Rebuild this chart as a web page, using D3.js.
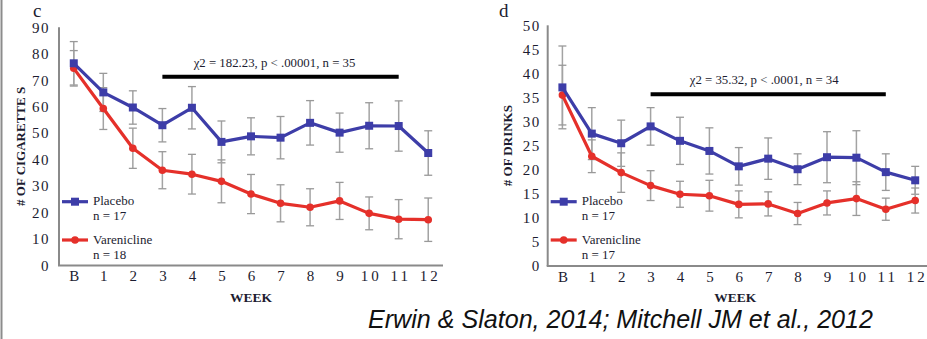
<!DOCTYPE html>
<html>
<head>
<meta charset="utf-8">
<script src="https://cdn.jsdelivr.net/npm/d3@7"></script>
<style>
  html, body { margin: 0; padding: 0; background: #fff; }
  svg { display: block; }
  text { font-family: "Liberation Serif", "Times New Roman", serif; fill: #1c1c30; }
</style>
</head>
<body>
<svg id="chart" width="927" height="339"></svg>
<script>
// weeks on the x axis
const weeks = ["B", "1", "2", "3", "4", "5", "6", "7", "8", "9", "10", "11", "12"];

// panel c: cigarettes per week (mean, error half-width)
const cigPlacebo    = [76.4, 65.4, 59.7, 53.0, 59.6, 46.7, 48.8, 48.3, 53.9, 50.2, 52.8, 52.7, 42.5];
const cigPlaceboErr = [8.2, 7.2, 6.3, 6.3, 8.0, 7.9, 7.0, 8.0, 8.4, 7.4, 8.7, 9.5, 8.4];
const cigVaren      = [74.5, 59.3, 44.3, 36.0, 34.5, 31.8, 27.0, 23.5, 22.0, 24.4, 19.7, 17.5, 17.3];
const cigVarenErr   = [6.7, 7.9, 7.6, 7.0, 7.5, 8.1, 7.4, 7.0, 7.0, 7.0, 6.2, 7.4, 8.2];
const cigTicks = [0, 10, 20, 30, 40, 50, 60, 70, 80, 90];

// panel d: drinks per week
const drkPlacebo    = [37.1, 27.5, 25.5, 29.0, 26.0, 23.9, 20.7, 22.3, 20.1, 22.6, 22.5, 19.5, 17.8];
const drkPlaceboErr = [8.6, 5.4, 4.8, 3.9, 4.9, 4.8, 3.9, 4.3, 3.2, 5.3, 5.6, 3.8, 2.9];
const drkVaren      = [35.5, 22.8, 19.4, 16.7, 14.9, 14.6, 12.8, 12.9, 10.9, 13.1, 14.0, 11.8, 13.6];
const drkVarenErr   = [6.2, 3.4, 4.1, 3.1, 2.7, 3.2, 2.8, 2.5, 2.3, 2.5, 3.5, 2.3, 2.6];
const drkTicks = [0, 5, 10, 15, 20, 25, 30, 35, 40, 45, 50];

const BLUE = "#3d3da8";
const RED = "#e5302a";
const ERR = "#a3a3a3";
const AXIS = "#8a8a8a";

const svg = d3.select("#chart");

// thin frame line on the left edge of the picture
svg.append("line")
  .attr("x1", 1.5).attr("x2", 1.5).attr("y1", 0).attr("y2", 339)
  .attr("stroke", "#8c8c8c").attr("stroke-width", 2);

function drawPanel(opt) {
  const { letter, x0, x1, y0, y1, yMax, ticks, placebo, placeboErr, varen, varenErr,
          yLabel, yLabelX, labelPad, stat, statOffset, barY, nPlacebo, nVaren } = opt;

  const x = d3.scalePoint().domain(weeks).range([x0, x1]).padding(0.5);
  const y = d3.scaleLinear().domain([0, yMax]).range([y0, y1]);
  const g = svg.append("g");

  // axes
  const yAxis = g.append("g")
    .attr("transform", `translate(${x0},0)`)
    .call(d3.axisLeft(y).tickValues(ticks).tickSize(0).tickPadding(labelPad));
  yAxis.select(".domain").remove();
  yAxis.selectAll("text")
    .style("font-family", '"Liberation Serif", serif')
    .style("font-size", "15px")
    .style("letter-spacing", "1.5px")
    .attr("fill", "#1c1c30");

  const xAxis = g.append("g")
    .attr("transform", `translate(0,${y0})`)
    .call(d3.axisBottom(x).tickSize(0).tickPadding(5));
  xAxis.select(".domain").remove();
  xAxis.selectAll("text")
    .style("font-family", '"Liberation Serif", serif')
    .style("font-size", "15px")
    .style("letter-spacing", "3px")
    .attr("dx", "1.5px")
    .attr("fill", "#1c1c30");

  g.append("line")
    .attr("x1", x0).attr("x2", x0).attr("y1", y(yMax)).attr("y2", y0)
    .attr("stroke", AXIS).attr("stroke-width", 2);
  g.append("line")
    .attr("x1", x0 - 1).attr("x2", x1).attr("y1", y0).attr("y2", y0)
    .attr("stroke", AXIS).attr("stroke-width", 2);

  g.append("text")
    .attr("x", (x0 + Math.min(x1, 927)) / 2 + opt.weekOffset)
    .attr("y", y0 + 36)
    .attr("text-anchor", "middle")
    .style("font-size", "13.5px").style("font-weight", "bold")
    .text("WEEK");

  g.append("text")
    .attr("transform", `translate(${yLabelX},${(y0 + y(yMax)) / 2}) rotate(-90)`)
    .attr("text-anchor", "middle")
    .style("font-size", "13px").style("font-weight", "bold")
    .text(yLabel);

  g.append("text")
    .attr("x", opt.letterX).attr("y", opt.letterY)
    .style("font-size", "19px")
    .text(letter);

  // significance bar
  g.append("line")
    .attr("x1", x("3")).attr("x2", x("11")).attr("y1", barY).attr("y2", barY)
    .attr("stroke", "#000").attr("stroke-width", 4);
  g.append("text")
    .attr("x", (x("3") + x("11")) / 2 + statOffset)
    .attr("y", barY - 10)
    .attr("text-anchor", "middle")
    .style("font-size", "12.8px")
    .text(stat);

  // error bars
  const series = [
    { vals: placebo, err: placeboErr, color: BLUE, shape: "square" },
    { vals: varen, err: varenErr, color: RED, shape: "circle" }
  ];
  series.forEach(s => {
    const eg = g.append("g");
    weeks.forEach((w, i) => {
      const cx = x(w), hi = y(s.vals[i] + s.err[i]), lo = y(s.vals[i] - s.err[i]);
      eg.append("line").attr("x1", cx).attr("x2", cx).attr("y1", hi).attr("y2", lo)
        .attr("stroke", ERR).attr("stroke-width", 1.5);
      [hi, lo].forEach(yy => eg.append("line")
        .attr("x1", cx - 4).attr("x2", cx + 4).attr("y1", yy).attr("y2", yy)
        .attr("stroke", "#999").attr("stroke-width", 1.3));
    });
  });

  // lines and markers (varenicline under placebo)
  const line = d3.line().x((d, i) => x(weeks[i])).y(d => y(d));
  [series[1], series[0]].forEach(s => {
    g.append("path").datum(s.vals)
      .attr("d", line).attr("fill", "none")
      .attr("stroke", s.color).attr("stroke-width", 3.2).attr("stroke-linejoin", "round");
    if (s.shape === "square") {
      g.selectAll(null).data(s.vals).enter().append("rect")
        .attr("x", (d, i) => x(weeks[i]) - 4).attr("y", d => y(d) - 4)
        .attr("width", 8).attr("height", 8).attr("fill", s.color);
    } else {
      g.selectAll(null).data(s.vals).enter().append("circle")
        .attr("cx", (d, i) => x(weeks[i])).attr("cy", d => y(d))
        .attr("r", 3.8).attr("fill", s.color);
    }
  });

  // legend
  const lx = x0 + 3;
  const legend = [
    { label: "Placebo", n: nPlacebo, color: BLUE, shape: "square", ly: 201.7 },
    { label: "Varenicline", n: nVaren, color: RED, shape: "circle", ly: 240 }
  ];
  legend.forEach(l => {
    g.append("line").attr("x1", lx).attr("x2", lx + 26).attr("y1", l.ly).attr("y2", l.ly)
      .attr("stroke", l.color).attr("stroke-width", 3.2);
    if (l.shape === "square") {
      g.append("rect").attr("x", lx + 9).attr("y", l.ly - 4).attr("width", 8).attr("height", 8).attr("fill", l.color);
    } else {
      g.append("circle").attr("cx", lx + 13).attr("cy", l.ly).attr("r", 3.8).attr("fill", l.color);
    }
    g.append("text").attr("x", lx + 31).attr("y", l.ly + 3.5).style("font-size", "13px").text(l.label);
    g.append("text").attr("x", lx + 31).attr("y", l.ly + 18.5).style("font-size", "13px").text("n = " + l.n);
  });
}

drawPanel({
  letter: "c", letterX: 33, letterY: 17,
  x0: 59, x1: 443, y0: 265.5, y1: 27.3, yMax: 90, ticks: cigTicks,
  placebo: cigPlacebo, placeboErr: cigPlaceboErr, varen: cigVaren, varenErr: cigVarenErr,
  yLabel: "# OF CIGARETTE S", yLabelX: 25, labelPad: 9,
  stat: "\u03c72 = 182.23, p < .00001, n = 35", statOffset: -6, barY: 76.7,
  nPlacebo: 17, nVaren: 18, weekOffset: 0
});

drawPanel({
  letter: "d", letterX: 499, letterY: 17,
  x0: 547.7, x1: 929.9, y0: 266, y1: 25.3, yMax: 50, ticks: drkTicks,
  placebo: drkPlacebo, placeboErr: drkPlaceboErr, varen: drkVaren, varenErr: drkVarenErr,
  yLabel: "# OF DRINKS", yLabelX: 512, labelPad: 7,
  stat: "\u03c72 = 35.32, p < .0001, n = 34", statOffset: -4, barY: 94.3,
  nPlacebo: 17, nVaren: 17, weekOffset: -2
});

// citation
svg.append("text")
  .attr("x", 368).attr("y", 328)
  .attr("textLength", 505).attr("lengthAdjust", "spacingAndGlyphs")
  .style("font-family", '"Liberation Sans", Arial, sans-serif')
  .style("font-style", "italic")
  .style("font-size", "25px")
  .style("fill", "#111")
  .text("Erwin & Slaton, 2014; Mitchell JM et al., 2012");
</script>
</body>
</html>
